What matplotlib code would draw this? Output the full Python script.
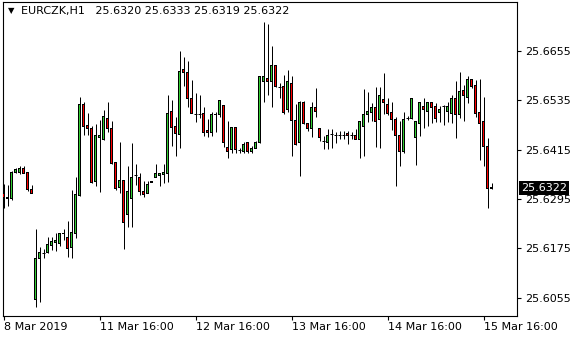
import matplotlib
matplotlib.use("Agg")
import matplotlib.pyplot as plt
import matplotlib.transforms as mtransforms
import numpy as np

# EURCZK H1 bars (oldest first)
opens = [25.6309, 25.6299, 25.6295, 25.6360, 25.6360, 25.6370, 25.6360, 25.6319,
         25.6052, 25.6151, 25.6164, 25.6166, 25.6183, 25.6190, 25.6188, 25.6210,
         25.6202, 25.6178, 25.6212, 25.6304, 25.6525, 25.6474, 25.6467, 25.6338,
         25.6445, 25.6440, 25.6491, 25.6465, 25.6384, 25.6324, 25.6341, 25.6258,
         25.6297, 25.6353, 25.6348, 25.6312, 25.6309, 25.6336, 25.6348, 25.6353,
         25.6355, 25.6358, 25.6508, 25.6472, 25.6452, 25.6608, 25.6603, 25.6540,
         25.6501, 25.6501, 25.6503, 25.6460, 25.6457, 25.6501, 25.6501, 25.6523,
         25.6421, 25.6414, 25.6469, 25.6414, 25.6411, 25.6431, 25.6409, 25.6418,
         25.6431, 25.6581, 25.6588, 25.6581, 25.6618, 25.6567, 25.6569, 25.6511,
         25.6576, 25.6486, 25.6431, 25.6530, 25.6477, 25.6467, 25.6518, 25.6465,
         25.6435, 25.6433, 25.6452, 25.6450, 25.6450, 25.6450, 25.6455, 25.6450,
         25.6450, 25.6440, 25.6472, 25.6501, 25.6506, 25.6518, 25.6489, 25.6537,
         25.6525, 25.6506, 25.6489, 25.6450, 25.6411, 25.6491, 25.6491, 25.6443,
         25.6479, 25.6520, 25.6508, 25.6530, 25.6520, 25.6506, 25.6520, 25.6508,
         25.6503, 25.6540, 25.6501, 25.6559, 25.6542, 25.6584, 25.6571, 25.6506,
         25.6482, 25.6423, 25.6320]
highs = [25.6331, 25.6329, 25.6363, 25.6370, 25.6375, 25.6375, 25.6360, 25.6329,
         25.6222, 25.6178, 25.6173, 25.6202, 25.6202, 25.6212, 25.6212, 25.6222,
         25.6241, 25.6316, 25.6348, 25.6542, 25.6530, 25.6503, 25.6472, 25.6477,
         25.6486, 25.6511, 25.6530, 25.6484, 25.6384, 25.6433, 25.6341, 25.6375,
         25.6431, 25.6380, 25.6358, 25.6338, 25.6338, 25.6338, 25.6380, 25.6358,
         25.6380, 25.6547, 25.6535, 25.6494, 25.6654, 25.6639, 25.6630, 25.6584,
         25.6552, 25.6547, 25.6518, 25.6489, 25.6506, 25.6506, 25.6535, 25.6523,
         25.6484, 25.6469, 25.6469, 25.6418, 25.6433, 25.6433, 25.6423, 25.6435,
         25.6593, 25.6724, 25.6720, 25.6666, 25.6618, 25.6576, 25.6596, 25.6608,
         25.6593, 25.6525, 25.6533, 25.6533, 25.6479, 25.6530, 25.6564, 25.6467,
         25.6448, 25.6465, 25.6465, 25.6457, 25.6460, 25.6460, 25.6460, 25.6457,
         25.6465, 25.6482, 25.6562, 25.6554, 25.6528, 25.6567, 25.6567, 25.6601,
         25.6540, 25.6530, 25.6494, 25.6484, 25.6506, 25.6496, 25.6540, 25.6484,
         25.6530, 25.6540, 25.6530, 25.6530, 25.6528, 25.6520, 25.6523, 25.6530,
         25.6547, 25.6581, 25.6603, 25.6571, 25.6593, 25.6586, 25.6584, 25.6586,
         25.6542, 25.6443, 25.6333]
lows = [25.6273, 25.6278, 25.6292, 25.6358, 25.6355, 25.6358, 25.6314, 25.6309,
        25.6032, 25.6044, 25.6151, 25.6164, 25.6171, 25.6168, 25.6180, 25.6195,
        25.6154, 25.6151, 25.6200, 25.6302, 25.6450, 25.6450, 25.6333, 25.6326,
        25.6312, 25.6438, 25.6457, 25.6380, 25.6316, 25.6309, 25.6173, 25.6227,
        25.6227, 25.6329, 25.6304, 25.6299, 25.6309, 25.6336, 25.6348, 25.6326,
        25.6333, 25.6336, 25.6423, 25.6399, 25.6418, 25.6569, 25.6518, 25.6503,
        25.6482, 25.6491, 25.6448, 25.6445, 25.6448, 25.6457, 25.6494, 25.6421,
        25.6394, 25.6406, 25.6406, 25.6406, 25.6406, 25.6406, 25.6406, 25.6418,
        25.6431, 25.6530, 25.6547, 25.6518, 25.6567, 25.6540, 25.6501, 25.6506,
        25.6399, 25.6426, 25.6350, 25.6477, 25.6460, 25.6445, 25.6494, 25.6435,
        25.6416, 25.6416, 25.6418, 25.6431, 25.6440, 25.6440, 25.6428, 25.6440,
        25.6440, 25.6394, 25.6399, 25.6482, 25.6484, 25.6421, 25.6418, 25.6501,
        25.6499, 25.6462, 25.6326, 25.6375, 25.6406, 25.6486, 25.6489, 25.6377,
        25.6448, 25.6467, 25.6472, 25.6479, 25.6482, 25.6482, 25.6474, 25.6482,
        25.6479, 25.6443, 25.6491, 25.6484, 25.6528, 25.6564, 25.6494, 25.6389,
        25.6375, 25.6273, 25.6319]
closes = [25.6299, 25.6295, 25.6360, 25.6367, 25.6370, 25.6358, 25.6319, 25.6309,
          25.6151, 25.6166, 25.6164, 25.6185, 25.6193, 25.6195, 25.6210, 25.6212,
          25.6176, 25.6214, 25.6307, 25.6525, 25.6472, 25.6467, 25.6336, 25.6448,
          25.6448, 25.6494, 25.6465, 25.6382, 25.6321, 25.6341, 25.6239, 25.6312,
          25.6348, 25.6353, 25.6314, 25.6307, 25.6329, 25.6338, 25.6358, 25.6358,
          25.6360, 25.6503, 25.6469, 25.6455, 25.6605, 25.6601, 25.6540, 25.6503,
          25.6501, 25.6501, 25.6457, 25.6457, 25.6501, 25.6499, 25.6533, 25.6431,
          25.6411, 25.6469, 25.6414, 25.6414, 25.6428, 25.6411, 25.6418, 25.6431,
          25.6591, 25.6591, 25.6581, 25.6618, 25.6567, 25.6567, 25.6506, 25.6581,
          25.6486, 25.6426, 25.6528, 25.6477, 25.6465, 25.6518, 25.6508, 25.6443,
          25.6435, 25.6448, 25.6452, 25.6450, 25.6450, 25.6450, 25.6448, 25.6450,
          25.6440, 25.6482, 25.6501, 25.6508, 25.6516, 25.6482, 25.6545, 25.6530,
          25.6503, 25.6489, 25.6450, 25.6411, 25.6489, 25.6491, 25.6540, 25.6484,
          25.6530, 25.6513, 25.6530, 25.6518, 25.6491, 25.6513, 25.6520, 25.6520,
          25.6540, 25.6501, 25.6557, 25.6545, 25.6586, 25.6569, 25.6503, 25.6479,
          25.6423, 25.6321, 25.6322]

time_ticks = [0, 24, 48, 72, 96, 120]
time_labels = ["8 Mar 2019", "11 Mar 16:00", "12 Mar 16:00", "13 Mar 16:00",
               "14 Mar 16:00", "15 Mar 16:00"]
price_ticks = [25.6055, 25.6175, 25.6295, 25.6415, 25.6535, 25.6655]
symbol = "EURCZK,H1"

o = np.array(opens)
h = np.array(highs)
l = np.array(lows)
c = np.array(closes)
idx = np.arange(len(o))

fig = plt.figure(figsize=(5.8, 3.4), dpi=100)
ax = fig.add_axes([3/580, 24/340, 513.5/580, 314/340])

ymin, ymax = 25.6011, 25.6773
px = (ymax - ymin) / 314.0   # one pixel in price units
one = 72.0 / 100             # one pixel in points

# wicks
ax.vlines(idx, l, h, color='black', linewidth=one, zorder=2)

# bodies: black block three pixels wide with a one pixel coloured core
top = np.maximum(o, c)
bot = np.minimum(o, c)
bull = c - o > 0.00004
bear = o - c > 0.00004
doji = ~(bull | bear)
body = bull | bear
ax.bar(idx[body], (top - bot)[body] + px, bottom=bot[body] - px / 2, width=0.75,
       color='black', linewidth=0, zorder=3)
inner = np.maximum(top - bot - px, 0)
ax.bar(idx[bull], inner[bull], bottom=bot[bull] + px / 2, width=0.25,
       color='#32cd32', linewidth=0, zorder=4)
ax.bar(idx[bear], inner[bear], bottom=bot[bear] + px / 2, width=0.25,
       color='#ff0000', linewidth=0, zorder=4)
ax.hlines(c[doji], idx[doji] - 0.375, idx[doji] + 0.375, color='black',
          linewidth=one, zorder=3)

# 4 px per bar, bar centres on pixel centres
ax.set_xlim(-0.125, 128.25)
ax.set_ylim(ymin, ymax)

for s in ax.spines.values():
    s.set_color('black')
    s.set_linewidth(0.8)

ax.yaxis.tick_right()
ax.set_yticks(price_ticks)
ax.set_yticklabels(["%.4f" % p for p in price_ticks])
ax.tick_params(axis='y', direction='out', length=3, width=0.8, pad=3, labelsize=8)
ax.set_xticks(time_ticks)
ax.set_xticklabels(time_labels, ha='left')
ax.tick_params(axis='x', direction='out', length=3, width=0.8, pad=1, labelsize=8)

# current price label
trans = mtransforms.blended_transform_factory(ax.transAxes, ax.transData)
ax.annotate("%.4f" % c[-1], xy=(1.0, c[-1]), xycoords=trans,
            xytext=(3.2, 0), textcoords='offset points', va='center', ha='left',
            fontsize=8, color='white', annotation_clip=False,
            bbox=dict(boxstyle='square,pad=0.2', fc='black', ec='none'))

# header
fig.text(8/580, 1 - 11/340, "\u25bc", fontsize=6, va='center', ha='left')
fig.text(21/580, 1 - 11/340,
         "%s   %.4f %.4f %.4f %.4f" % (symbol, o[-1], h[-1], l[-1], c[-1]),
         fontsize=8, va='center', ha='left')

fig.savefig("out.png", dpi=100, facecolor='white')
